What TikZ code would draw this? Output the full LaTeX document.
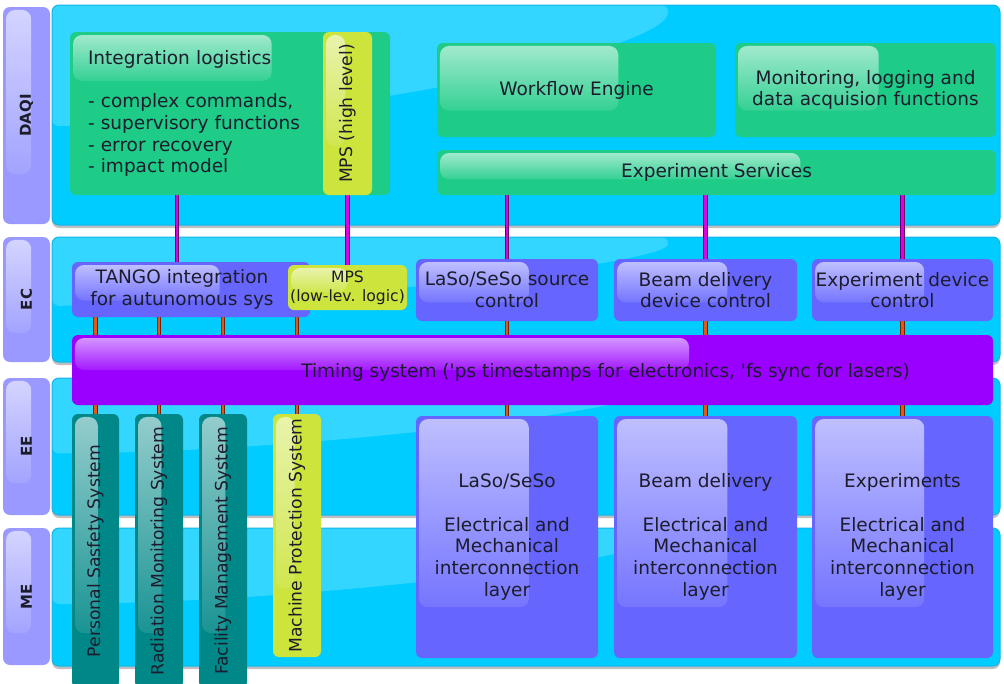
\documentclass[tikz,border=0pt]{standalone}
\usepackage{fontspec}
\setmainfont{DejaVu Sans}
\usetikzlibrary{calc,shadows,fadings}

\definecolor{bandcyan}{RGB}{0,204,255}
\definecolor{bandedge}{RGB}{20,180,235}
\definecolor{lblpurple}{RGB}{153,153,255}
\definecolor{svcgreen}{RGB}{30,204,136}
\definecolor{mpsyellow}{RGB}{204,228,60}
\definecolor{ctlblue}{RGB}{102,102,255}
\definecolor{timpurple}{RGB}{153,0,255}
\definecolor{safeteal}{RGB}{0,136,136}
\definecolor{wiremag}{RGB}{225,0,225}
\definecolor{wireorg}{RGB}{235,85,15}
\definecolor{inkdark}{RGB}{28,28,44}

\tikzfading[name=glossfade, top color=transparent!42, bottom color=transparent!90]

\pgfdeclarelayer{bands}
\pgfdeclarelayer{wires}
\pgfsetlayers{bands,wires,main}

% block from its corners: name, x1, y1, x2, y2, style
\newcommand\blk[6]{\node[#6, minimum width={(#4-#2)*1pt}, minimum height={(#5-#3)*1pt}] (#1) at ({(#2+#4)/2},{(#3+#5)/2})}
% upright text set in a column
\newcommand\upword[1]{\rotatebox{90}{\fontsize{17.2}{20}\selectfont #1}}

\tikzset{
  gloss/.style 2 args={path picture={
    \coordinate (gA) at ([shift={(3pt,-3pt)}]path picture bounding box.north west);
    \coordinate (gB) at ($(path picture bounding box.north west)!#1!(path picture bounding box.north east)$);
    \coordinate (gC) at ($(path picture bounding box.north west)!#2!(path picture bounding box.south west)$);
    \fill[white,path fading=glossfade,rounded corners=9pt] (gA) rectangle (gB |- gC);
  }},
  bandgloss/.style 2 args={path picture={
    \coordinate (bA) at (path picture bounding box.north west);
    \coordinate (bB) at ($(path picture bounding box.north west)!#2!(path picture bounding box.south west)$);
    \coordinate (bC) at ($(path picture bounding box.north west)!#1!(path picture bounding box.north east)$);
    \fill[white,opacity=.2] (bA) -- (bB) .. controls ($(bB -| bC)!.6!(bB)$) and ($(bC)!.4!(bB -| bC)$) .. (bC) -- cycle;
  }},
  box/.style={rounded corners=6pt, inner sep=0pt, text=inkdark, align=center,
    font=\fontsize{18.5}{21.7}\selectfont},
  txt/.style={inner sep=0pt, text=inkdark, align=center, font=\fontsize{18.5}{21.7}\selectfont},
  band/.style={rounded corners=7pt, fill=bandcyan, draw=bandedge, line width=1pt,
    drop shadow={shadow xshift=0pt, shadow yshift=-3pt, opacity=.25, fill=black},
    bandgloss={.65}{.55}},
  lbl/.style={rounded corners=7pt, fill=lblpurple, inner sep=0pt, text=inkdark,
    font=\bfseries\fontsize{15}{17}\selectfont, gloss={.6}{.77}},
  greenbox/.style={box, fill=svcgreen},
  yellowbox/.style={box, fill=mpsyellow},
  bluebox/.style={box, fill=ctlblue},
  tealbox/.style={box, fill=safeteal, gloss={.55}{.8}},
  timebox/.style={box, fill=timpurple, gloss={.67}{.5}},
  magwire/.style={draw=black!55!wiremag, double=wiremag, double distance=2.6pt,
    line width=0.8pt, line cap=round},
  orgwire/.style={draw=black!55!wireorg, double=wireorg, double distance=2.6pt,
    line width=0.8pt, line cap=round}
}

\begin{document}
\begin{tikzpicture}[x=1pt,y=-1pt]
\useasboundingbox (0,0) rectangle (1004,683);

\begin{pgfonlayer}{bands}
  \fill[white] (0,0) rectangle (1004,683);
  % layer bands
  \blk{bdaqi}{52}{5}{1000}{225}{band}{};
  \blk{bec}{52}{237}{1000}{362}{band}{};
  \blk{bee}{52}{378}{1000}{515}{band}{};
  \blk{bme}{52}{528}{1000}{666}{band}{};
  % layer names
  \blk{ldaqi}{3}{7}{50}{224}{lbl}{\rotatebox{90}{DAQI}};
  \blk{lec}{3}{237}{50}{362}{lbl}{\rotatebox{90}{EC}};
  \blk{lee}{3}{378}{50}{515}{lbl}{\rotatebox{90}{EE}};
  \blk{lme}{3}{528}{50}{665}{lbl}{\rotatebox{90}{ME}};
\end{pgfonlayer}

% DAQI layer
\blk{intlog}{70}{32}{390}{195}{greenbox, gloss={.63}{.3}, align=left, text width=284pt, inner xsep=18pt}
  {Integration logistics\\~\\- complex commands,\\- supervisory functions\\- error recovery\\- impact model};
\blk{mpshi}{323}{32}{372}{195}{yellowbox, gloss={.45}{.7}}{\upword{MPS (high level)}};
\blk{wf}{437}{43}{716}{137}{greenbox, gloss={.65}{.72}}{Workflow Engine};
\blk{mon}{735}{43}{996}{137}{greenbox, gloss={.55}{.72}}{Monitoring, logging and\\data acquision functions};
\blk{expsvc}{437}{150}{996}{195}{greenbox, gloss={.65}{.65}}{Experiment Services};

% EC layer
\blk{tango}{72}{262}{310}{317}{bluebox, gloss={.62}{.7}}{};
\node[txt] (tangolbl) at ([xshift=-9pt]tango.center) {TANGO integration\\for autunomous sys};
\blk{mpslo}{288}{265}{407}{310}{yellowbox, gloss={.5}{.6}, font=\fontsize{15.6}{19}\selectfont}{MPS\\(low-lev. logic)};
\blk{lasoc}{416}{259}{598}{321}{bluebox, gloss={.62}{.7}}{LaSo/SeSo source\\control};
\blk{beamc}{614}{259}{797}{321}{bluebox, gloss={.62}{.7}}{Beam delivery\\device control};
\blk{expc}{812}{259}{993}{321}{bluebox, gloss={.62}{.7}}{Experiment device\\control};
\blk{timing}{72}{335}{993}{405}{timebox}{};
\node[txt] (timinglbl) at ([xshift=73pt,yshift=-2pt]timing.center)
  {Timing system (\textquotesingle ps timestamps for electronics, \textquotesingle fs sync for lasers)};

% EE / ME layers
\blk{pss}{72}{414}{119}{688}{tealbox}{\upword{Personal Sasfety System}};
\blk{rms}{135}{414}{183}{688}{tealbox}{\upword{Radiation Monitoring System}};
\blk{fms}{199}{414}{247}{688}{tealbox}{\upword{Facility Management System}};
\blk{mps}{273}{414}{321}{657}{yellowbox, gloss={.45}{.72}}{\upword{Machine Protection System}};
\blk{lasoe}{416}{416}{598}{658}{bluebox, gloss={.62}{.79}}
  {LaSo/SeSo\\~\\Electrical and\\Mechanical\\interconnection\\layer};
\blk{beame}{614}{416}{797}{658}{bluebox, gloss={.62}{.79}}
  {Beam delivery\\~\\Electrical and\\Mechanical\\interconnection\\layer};
\blk{expe}{812}{416}{993}{658}{bluebox, gloss={.62}{.79}}
  {Experiments\\~\\Electrical and\\Mechanical\\interconnection\\layer};

\coordinate (tapA) at (177,0);

\begin{pgfonlayer}{wires}
  % DAQI to EC
  \draw[magwire] (intlog.south -| tapA) -- (tango.north -| tapA);
  \draw[magwire] (mpshi.south) -- (mpslo.north);
  \draw[magwire] (expsvc.south -| lasoc.north) -- (lasoc.north);
  \draw[magwire] (expsvc.south -| beamc.north) -- (beamc.north);
  \draw[magwire] (expsvc.south -| expc.north) -- (expc.north);
  % EC to timing
  \draw[orgwire] (tango.south -| pss.north) -- (timing.north -| pss.north);
  \draw[orgwire] (tango.south -| rms.north) -- (timing.north -| rms.north);
  \draw[orgwire] (tango.south -| fms.north) -- (timing.north -| fms.north);
  \draw[orgwire] (mpslo.south -| mps.north) -- (timing.north -| mps.north);
  \draw[orgwire] (lasoc.south) -- (timing.north -| lasoc.south);
  \draw[orgwire] (beamc.south) -- (timing.north -| beamc.south);
  \draw[orgwire] (expc.south) -- (timing.north -| expc.south);
  % timing to EE
  \draw[orgwire] (timing.south -| pss.north) -- (pss.north);
  \draw[orgwire] (timing.south -| rms.north) -- (rms.north);
  \draw[orgwire] (timing.south -| fms.north) -- (fms.north);
  \draw[orgwire] (timing.south -| mps.north) -- (mps.north);
  \draw[orgwire] (timing.south -| lasoe.north) -- (lasoe.north);
  \draw[orgwire] (timing.south -| beame.north) -- (beame.north);
  \draw[orgwire] (timing.south -| expe.north) -- (expe.north);
\end{pgfonlayer}
\end{tikzpicture}
\end{document}
